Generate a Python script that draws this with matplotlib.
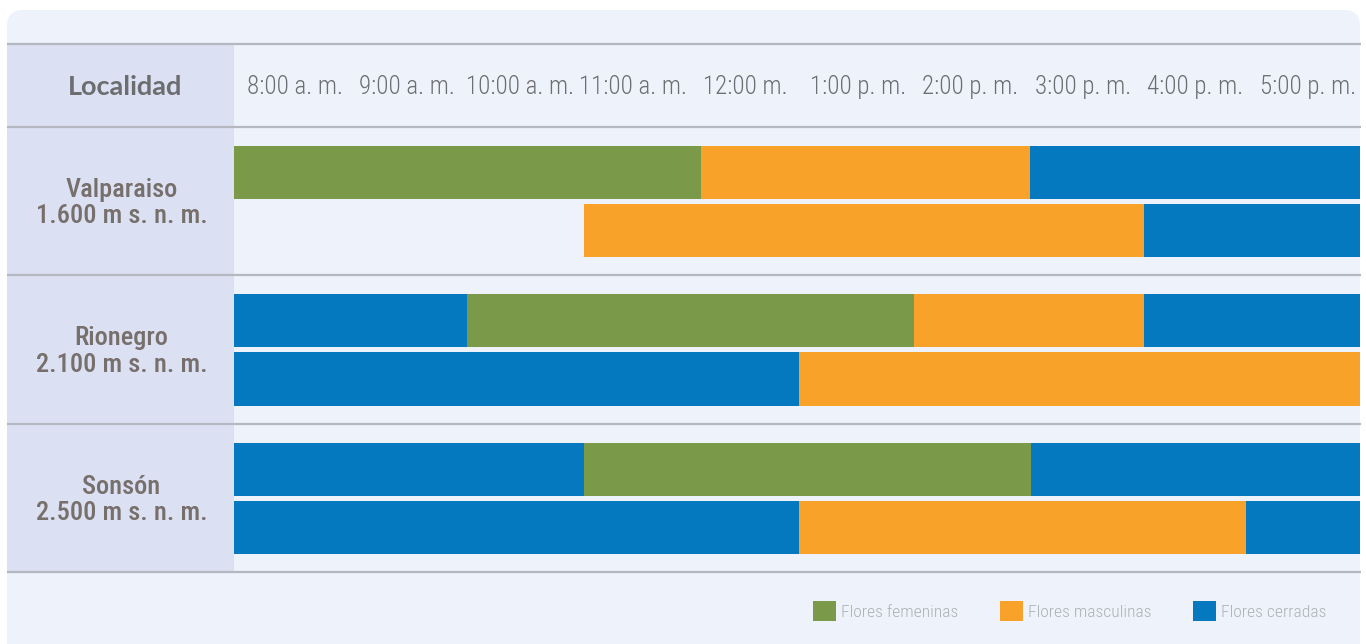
import matplotlib
matplotlib.use("Agg")
import matplotlib.pyplot as plt
from matplotlib.patches import FancyBboxPatch, Rectangle, Patch

# Data: hours after 8:00 a. m., each segment is (start, end, state)
hours = ["8:00 a. m.", "9:00 a. m.", "10:00 a. m.", "11:00 a. m.", "12:00 m.",
         "1:00 p. m.", "2:00 p. m.", "3:00 p. m.", "4:00 p. m.", "5:00 p. m."]
places = ["Valparaiso\n1.600 m s. n. m.", "Rionegro\n2.100 m s. n. m.", "Sonsón\n2.500 m s. n. m."]
states = ["Flores femeninas", "Flores masculinas", "Flores cerradas"]

valparaiso_1 = [(0.0, 4.15, 0), (4.15, 7.07, 1), (7.07, 10.0, 2)]
valparaiso_2 = [(3.11, 8.08, 1), (8.08, 10.0, 2)]
rionegro_1 = [(0.0, 2.07, 2), (2.07, 6.04, 0), (6.04, 8.08, 1), (8.08, 10.0, 2)]
rionegro_2 = [(0.0, 5.02, 2), (5.02, 10.0, 1)]
sonson_1 = [(0.0, 3.11, 2), (3.11, 7.08, 0), (7.08, 10.0, 2)]
sonson_2 = [(0.0, 5.02, 2), (5.02, 8.99, 1), (8.99, 10.0, 2)]
rows = [(valparaiso_1, valparaiso_2), (rionegro_1, rionegro_2), (sonson_1, sonson_2)]

colors = ["#7a9a4a", "#f9a229", "#0579bf"]
panel = "#eef2fa"
side = "#dbe1f2"
rule = "#b5b8c0"
narrow = ["Roboto Condensed", "Archivo Narrow", "DejaVu Sans"]

W, H = 1366, 644
fig = plt.figure(figsize=(W / 100, H / 100), dpi=100)
fig.patch.set_facecolor("white")

# background in pixel coordinates
bg = fig.add_axes([0, 0, 1, 1])
bg.set_xlim(0, W)
bg.set_ylim(H, 0)
bg.axis("off")
bg.add_patch(FancyBboxPatch((7, 10), 1353, 700, boxstyle="round,pad=0,rounding_size=16",
                            fc=panel, ec="none"))
bg.add_patch(Rectangle((7, 44), 227, 528, fc=side, ec="none"))
for y in [44, 127, 275, 424, 572]:
    bg.plot([7, 1361], [y, y], color=rule, lw=1.6, solid_capstyle="butt")

# chart area: x in hours, y in rows
ax = fig.add_axes([234 / W, 1 - 572 / H, 1126 / W, 445 / H])
ax.set_xlim(0, 10)
ax.set_ylim(3, 0)
ax.axis("off")

bar_h = 0.358
for g, pair in enumerate(rows):
    for k, segs in enumerate(pair):
        yc = g + (0.307 if k == 0 else 0.699)
        for s, e, c in segs:
            ax.barh(yc, e - s, left=s, height=bar_h, color=colors[c], lw=0)
    ax.text(-1.0, g + 0.513, places[g], ha="center", va="center", fontsize=19,
            color="#776f6c", family=narrow, fontweight="medium", linespacing=1.12)

for i, lab in enumerate(hours):
    ax.text(i + 0.54, -0.27, lab, ha="center", va="center", fontsize=18,
            color="#6d6e72", family=narrow, fontweight="light", clip_on=False)
ax.text(-0.97, -0.27, "Localidad", ha="center", va="center", fontsize=19.5,
        color="#6d6d70", family=["Lato", "DejaVu Sans"], fontweight="bold")

handles = [Patch(fc=c, ec="none") for c in colors]
leg = fig.legend(handles, states, loc="center right", ncol=3, frameon=False,
                 bbox_to_anchor=(1335 / W, 1 - 611 / H), borderpad=0,
                 handlelength=1.3, handleheight=1.3, handletextpad=0.28,
                 columnspacing=2.4,
                 prop={"family": narrow, "size": 12.6, "weight": "light"})
for t in leg.get_texts():
    t.set_color("#aeb0b6")

fig.savefig("out.png", dpi=100, facecolor=fig.get_facecolor())
